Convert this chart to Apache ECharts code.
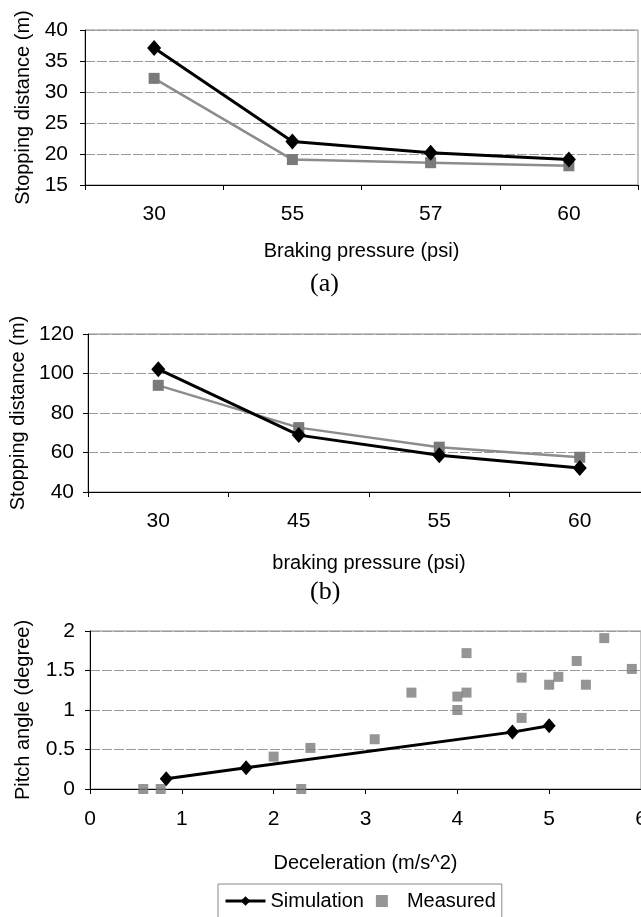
<!DOCTYPE html>
<html>
<head>
<meta charset="utf-8">
<script src="https://cdn.jsdelivr.net/npm/echarts@6/dist/echarts.min.js"></script>
<style>
html,body{margin:0;padding:0;background:#fff;overflow:hidden;}
#c{width:641px;height:917px;}
</style>
</head>
<body>
<div id="c"></div>
<script>
// Panel (a)
const catsA = ['30', '55', '57', '60'];
const simA = [37.1, 22.0, 20.2, 19.1];
const measA = [32.2, 19.1, 18.6, 18.1];
// Panel (b)
const catsB = ['30', '45', '55', '60'];
const simB = [102.2, 68.8, 58.6, 52.1];
const measB = [94.0, 72.6, 62.7, 57.6];
// Panel (c)
const simC = [[0.83, 0.13], [1.7, 0.27], [4.6, 0.72], [5.0, 0.80]];
const measC = [
  [0.58, 0.0], [0.77, 0.0], [2.0, 0.41], [2.3, 0.0], [2.4, 0.52],
  [3.1, 0.63], [3.5, 1.22], [4.0, 1.17], [4.1, 1.22], [4.0, 1.0],
  [4.1, 1.72], [4.7, 1.41], [4.7, 0.9], [5.0, 1.32], [5.1, 1.42],
  [5.3, 1.62], [5.4, 1.32], [5.6, 1.91], [5.9, 1.52]
];

const FONT = "'Liberation Sans', Arial, sans-serif";
const chart = echarts.init(document.getElementById('c'), null, {renderer: 'canvas', width: 641, height: 917});

const gridLine = {show: true, lineStyle: {color: '#9a9a9a', width: 1, type: [10, 2]}};
const axLine = {show: true, lineStyle: {color: '#000', width: 1}};
const axTick = {show: true, length: 5, lineStyle: {color: '#000'}};
const lbl = {color: '#000', fontSize: 21, fontFamily: FONT};
const nameStyle = {color: '#000', fontSize: 20, fontFamily: FONT};

function catX(i, data, name, gap) {
  return {
    type: 'category', gridIndex: i, data: data, boundaryGap: true,
    axisLine: axLine, axisTick: Object.assign({alignWithLabel: false}, axTick),
    axisLabel: Object.assign({margin: 19}, lbl), splitLine: {show: false},
    name: name, nameLocation: 'middle', nameGap: gap, nameTextStyle: nameStyle
  };
}
function valY(i, min, max, interval, name, gap, margin) {
  return {
    type: 'value', gridIndex: i, min: min, max: max, interval: interval,
    axisLine: axLine, axisTick: axTick,
    axisLabel: Object.assign({margin: margin}, lbl), splitLine: gridLine,
    name: name, nameLocation: 'middle', nameGap: gap, nameRotate: 90, nameTextStyle: nameStyle
  };
}

const simStyle = {
  type: 'line', symbol: 'diamond', symbolSize: [14, 16],
  lineStyle: {color: '#000', width: 3}, itemStyle: {color: '#000'}, z: 3
};
const measLineStyle = {
  type: 'line', symbol: 'rect', symbolSize: 11,
  lineStyle: {color: '#8c8c8c', width: 2.5}, itemStyle: {color: '#7a7a7a'}, z: 2
};

const gridBase = {show: true, borderColor: '#8a8a8a', borderWidth: 1, backgroundColor: 'transparent', containLabel: false, outerBoundsMode: 'none'};

chart.setOption({
  animation: false,
  backgroundColor: '#fff',
  textStyle: {fontFamily: FONT},
  grid: [
    Object.assign({left: 85, top: 30, width: 553, height: 155}, gridBase),
    Object.assign({left: 88, top: 334, width: 562, height: 158}, gridBase),
    Object.assign({left: 90, top: 631, width: 551, height: 158}, gridBase)
  ],
  xAxis: [
    catX(0, catsA, 'Braking pressure (psi)', 56),
    catX(1, catsB, 'braking pressure (psi)', 61),
    {
      type: 'value', gridIndex: 2, min: 0, max: 6, interval: 1,
      axisLine: axLine, axisTick: axTick,
      axisLabel: Object.assign({margin: 20}, lbl), splitLine: {show: false},
      name: 'Deceleration (m/s^2)', nameLocation: 'middle', nameGap: 64, nameTextStyle: nameStyle
    }
  ],
  yAxis: [
    valY(0, 15, 40, 5, 'Stopping distance (m)', 52, 17),
    valY(1, 40, 120, 20, 'Stopping distance (m)', 55, 14),
    valY(2, 0, 2, 0.5, 'Pitch angle (degree)', 57, 15)
  ],
  legend: {
    left: 218, top: 884, orient: 'horizontal',
    data: [
      {name: 'Simulation', lineStyle: {width: 3, color: '#000'}},
      {name: 'Measured', icon: 'path://M0 0H10V10H0Z'}
    ],
    itemWidth: 40, itemHeight: 12, itemGap: 12,
    symbolKeepAspect: true,
    borderColor: '#888', borderWidth: 1, padding: [7, 6, 10, 6],
    textStyle: {color: '#000', fontSize: 20, fontFamily: FONT},
    selectedMode: false
  },
  graphic: [
    {type: 'text', left: 310, top: 271, style: {text: '(a)', fontSize: 26, fontFamily: "'Liberation Serif', 'Times New Roman', serif", fill: '#000'}},
    {type: 'text', left: 310, top: 579, style: {text: '(b)', fontSize: 26, fontFamily: "'Liberation Serif', 'Times New Roman', serif", fill: '#000'}}
  ],
  series: [
    Object.assign({}, measLineStyle, {type: 'scatter', name: 'Measured', xAxisIndex: 2, yAxisIndex: 2, data: measC, symbolSize: 10, lineStyle: undefined}),
    Object.assign({}, simStyle, {name: 'Simulation', xAxisIndex: 0, yAxisIndex: 0, data: simA}),
    Object.assign({}, measLineStyle, {name: 'Measured', xAxisIndex: 0, yAxisIndex: 0, data: measA}),
    Object.assign({}, simStyle, {name: 'Simulation', xAxisIndex: 1, yAxisIndex: 1, data: simB}),
    Object.assign({}, measLineStyle, {name: 'Measured', xAxisIndex: 1, yAxisIndex: 1, data: measB}),
    Object.assign({}, simStyle, {name: 'Simulation', xAxisIndex: 2, yAxisIndex: 2, data: simC, symbolSize: [13, 15]})
  ]
});
</script>
</body>
</html>
